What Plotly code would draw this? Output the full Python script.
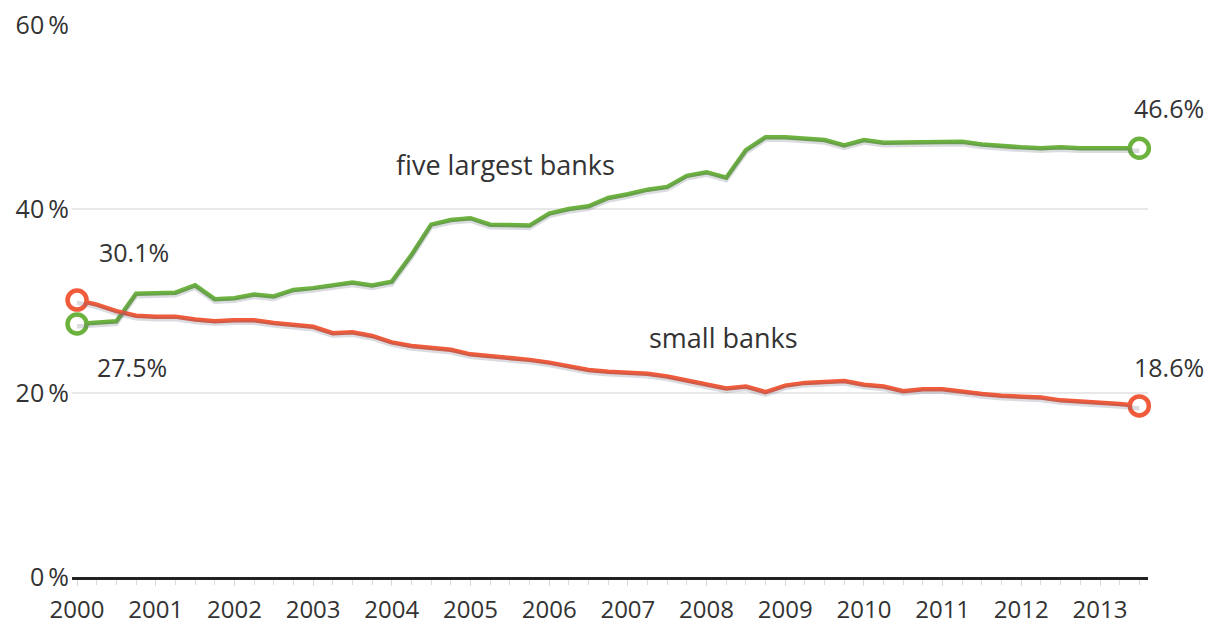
import plotly.graph_objects as go

# Quarterly observations, Q1 2000 through Q3 2013 (x in fractional years)
quarters = [2000 + q / 4 for q in range(55)]

# Share of total banking assets, in percent
five_largest = [
    27.5, 27.7, 27.8, 30.8, 30.9, 30.9, 31.7, 30.2, 30.3, 30.7,
    30.5, 31.2, 31.4, 31.7, 32.0, 31.7, 32.1, 35.0, 38.3, 38.8,
    39.0, 38.3, 38.2, 38.2, 39.5, 40.0, 40.3, 41.2, 41.6, 42.1,
    42.4, 43.6, 44.0, 43.4, 46.4, 47.8, 47.8, 47.7, 47.5, 46.9,
    47.5, 47.2, 47.2, 47.3, 47.3, 47.3, 47.0, 46.8, 46.7, 46.6,
    46.7, 46.6, 46.6, 46.6, 46.6,
]
small_banks = [
    30.1, 29.6, 28.9, 28.4, 28.3, 28.3, 28.0, 27.8, 27.9, 27.9,
    27.6, 27.4, 27.2, 26.5, 26.6, 26.2, 25.5, 25.1, 24.9, 24.7,
    24.2, 24.0, 23.9, 23.6, 23.3, 22.9, 22.5, 22.3, 22.2, 22.1,
    21.8, 21.4, 20.9, 20.5, 20.7, 20.1, 20.8, 21.1, 21.2, 21.3,
    20.9, 20.7, 20.2, 20.4, 20.4, 20.1, 19.9, 19.7, 19.6, 19.5,
    19.2, 19.1, 19.0, 18.8, 18.6,
]

year_ticks = list(range(2000, 2014))
pct_ticks = [0, 20, 40, 60]
pct_labels = ["0\u2009%", "20\u2009%", "40\u2009%", "60\u2009%"]

GREEN = "#6cb23f"
RED = "#ef5b3b"
TEXT = "#333333"
FONT = "Open Sans"

fig = go.Figure()

# soft drop shadow under each line (same data on a slightly shifted overlay axis)
for series in (five_largest, small_banks):
    fig.add_trace(go.Scatter(
        x=quarters, y=series, mode="lines", yaxis="y2",
        line=dict(color="rgba(90,95,120,0.22)", width=4.5),
        hoverinfo="skip", showlegend=False,
    ))

fig.add_trace(go.Scatter(
    x=quarters, y=five_largest, mode="lines",
    line=dict(color=GREEN, width=4.5), name="five largest banks", showlegend=False,
))
fig.add_trace(go.Scatter(
    x=quarters, y=small_banks, mode="lines",
    line=dict(color=RED, width=4.5), name="small banks", showlegend=False,
))

# hollow end-point markers
for series, color in ((small_banks, RED), (five_largest, GREEN)):
    fig.add_trace(go.Scatter(
        x=[quarters[0], quarters[-1]], y=[series[0], series[-1]], mode="markers",
        marker=dict(size=19, color="white", line=dict(color=color, width=4.5)),
        cliponaxis=False, showlegend=False, hoverinfo="skip",
    ))

label_font = dict(family=FONT, size=25, color=TEXT)
annotations = [
    dict(x=quarters[0], y=small_banks[0], text=f"{small_banks[0]:.1f}%",
         xanchor="left", yanchor="middle", xshift=20, yshift=48),
    dict(x=quarters[0], y=five_largest[0], text=f"{five_largest[0]:.1f}%",
         xanchor="left", yanchor="middle", xshift=18, yshift=-43),
    dict(x=quarters[-1], y=five_largest[-1], text=f"{five_largest[-1]:.1f}%",
         xanchor="left", yanchor="middle", xshift=-7, yshift=40),
    dict(x=quarters[-1], y=small_banks[-1], text=f"{small_banks[-1]:.1f}%",
         xanchor="left", yanchor="middle", xshift=-7, yshift=39),
]
for a in annotations:
    fig.add_annotation(**a, showarrow=False, font=label_font)

series_font = dict(family=FONT, size=27, color=TEXT)
fig.add_annotation(x=2005.44, y=44.8, text="five largest banks", showarrow=False,
                   font=series_font, xanchor="center", yanchor="middle")
fig.add_annotation(x=2008.21, y=26.0, text="small banks", showarrow=False,
                   font=series_font, xanchor="center", yanchor="middle")

shadow_shift = 2.5 / 9.2  # about 2.5 px in data units

fig.update_layout(
    width=1216, height=625,
    margin=dict(l=72, r=68, t=25, b=48, autoexpand=False),
    paper_bgcolor="white", plot_bgcolor="white",
    font=dict(family=FONT, color=TEXT),
    xaxis=dict(
        range=[1999.936, 2013.61],
        tickmode="array", tickvals=year_ticks, ticktext=[str(y) for y in year_ticks],
        tickfont=dict(family=FONT, size=24, color=TEXT),
        showgrid=False, zeroline=False,
        showline=True, linecolor="#222222", linewidth=3,
        ticks="outside", ticklen=6, tickwidth=1, tickcolor="#d8d8d8",
        minor=dict(dtick=0.25, tick0=2000, ticks="outside", ticklen=5,
                   tickwidth=1, tickcolor="#dcdcdc", showgrid=False),
        ticklabelstandoff=3,
        automargin=False, fixedrange=True,
    ),
    yaxis=dict(
        range=[0, 60],
        tickmode="array", tickvals=pct_ticks, ticktext=pct_labels,
        tickfont=dict(family=FONT, size=25, color=TEXT),
        showgrid=True, gridcolor="#e8e8e8", gridwidth=2,
        zeroline=False, showline=False, ticks="",
        ticklabelstandoff=2,
        automargin=False, fixedrange=True,
    ),
    yaxis2=dict(
        range=[shadow_shift, 60 + shadow_shift], overlaying="y",
        visible=False, fixedrange=True,
    ),
)

fig.write_html("out.html")
